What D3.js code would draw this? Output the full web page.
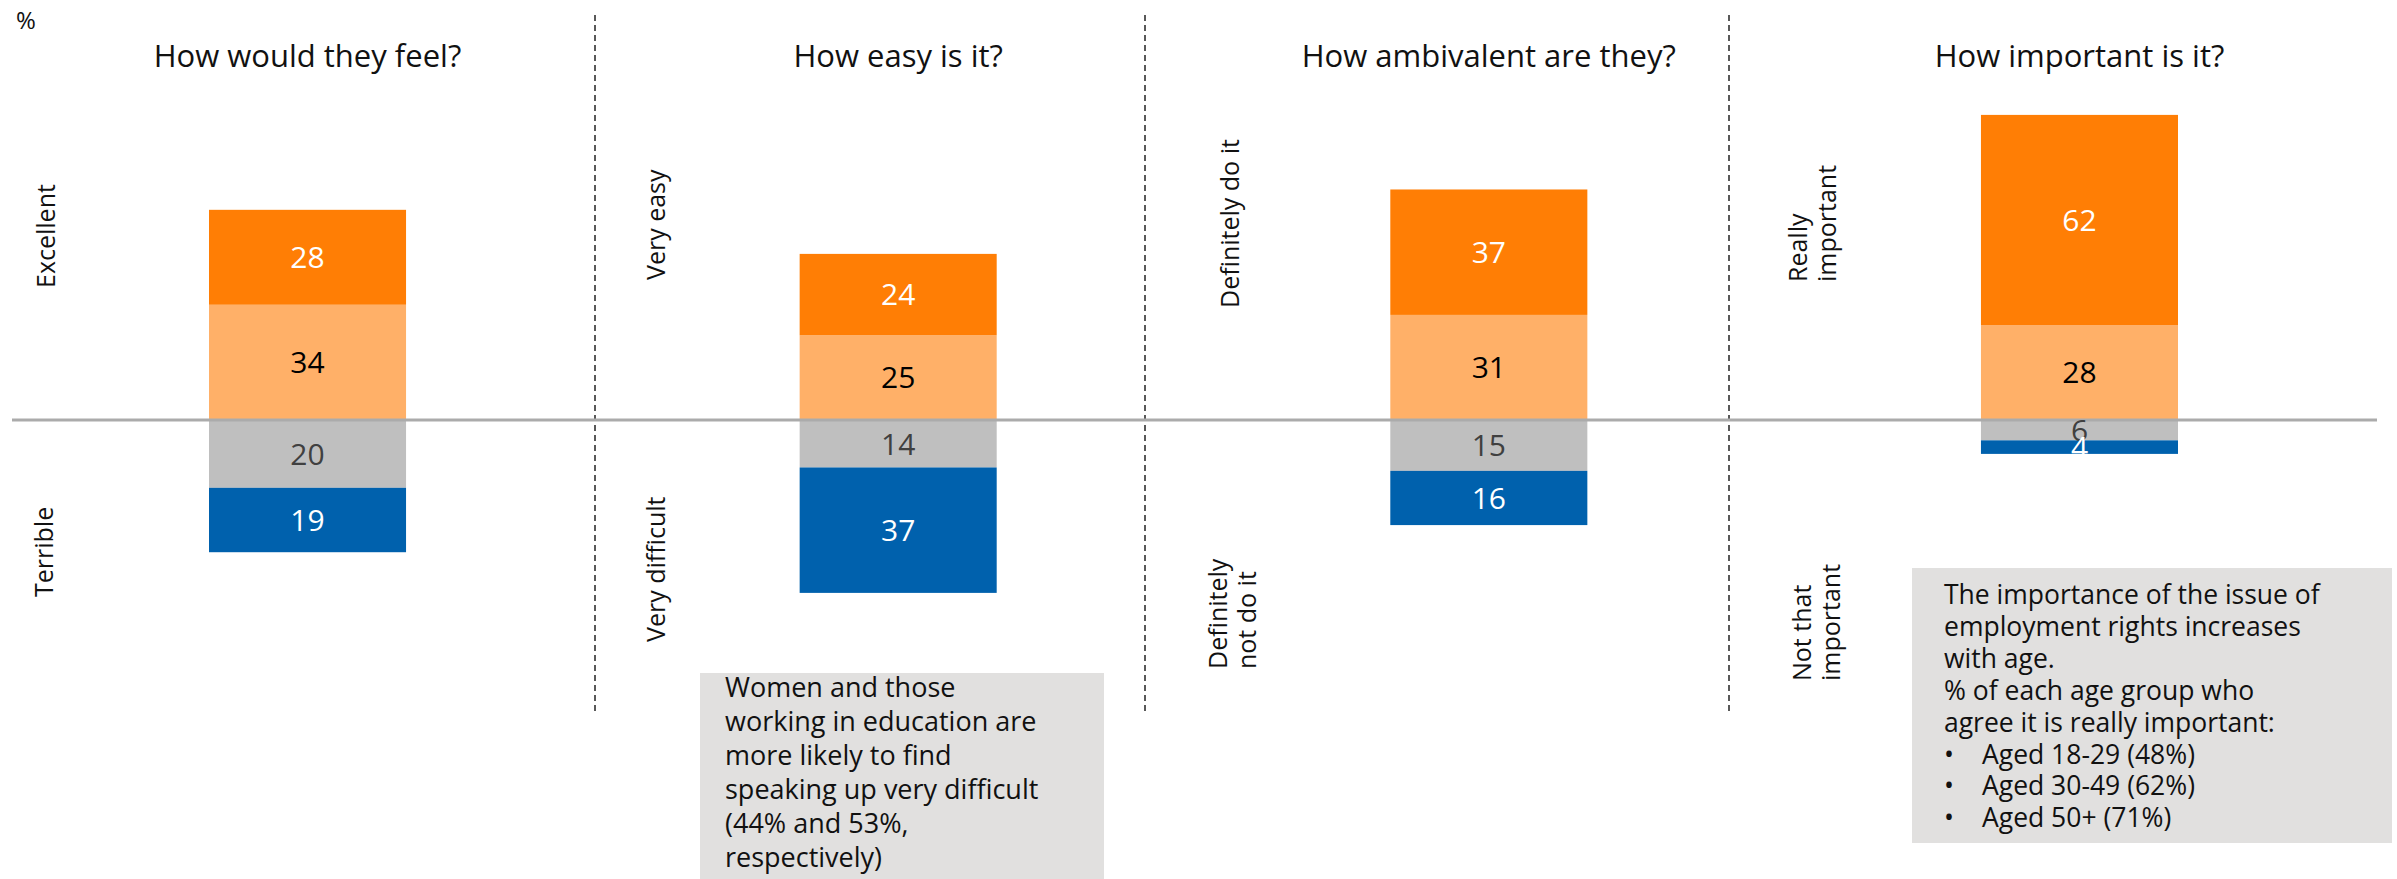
<!DOCTYPE html>
<html>
<head>
<meta charset="utf-8">
<script src="https://cdn.jsdelivr.net/npm/d3@7"></script>
<style>
  html, body { margin: 0; padding: 0; background: #fff; }
  svg { display: block; font-family: "Open Sans", sans-serif; }
</style>
</head>
<body>
<svg id="chart"></svg>
<script>
// questions (one panel each)
const questions = ["How would they feel?", "How easy is it?", "How ambivalent are they?", "How important is it?"];

// % values, top = positive side, bottom = negative side
const topStrong    = [28, 24, 37, 62];
const topWeak      = [34, 25, 31, 28];
const bottomWeak   = [20, 14, 15, 6];
const bottomStrong = [19, 37, 16, 4];

const topLabels    = [["Excellent"], ["Very easy"], ["Definitely do it"], ["Really", "important"]];
const bottomLabels = [["Terrible"], ["Very difficult"], ["Definitely", "not do it"], ["Not that", "important"]];

const note1 = ["Women and those", "working in education are", "more likely to find",
               "speaking up very difficult", "(44% and 53%,", "respectively)"];
const note2 = ["The importance of the issue of", "employment rights increases", "with age.",
               "% of each age group who", "agree it is really important:"];
const note2Bullets = ["Aged 18-29 (48%)", "Aged 30-49 (62%)", "Aged 50+ (71%)"];

const W = 2397, H = 879;
const svg = d3.select("#chart").attr("width", W).attr("height", H);

const keys = ["topWeak", "topStrong", "bottomWeak", "bottomStrong"];
const colors = {topStrong: "#FF7E05", topWeak: "#FFB068", bottomWeak: "#BFBFBF", bottomStrong: "#0061AD"};
const labelColors = {topStrong: "#fff", topWeak: "#000", bottomWeak: "#404040", bottomStrong: "#fff"};

const rows = questions.map((q, i) => ({
  q,
  topStrong: topStrong[i],
  topWeak: topWeak[i],
  bottomWeak: -bottomWeak[i],
  bottomStrong: -bottomStrong[i]
}));

const series = d3.stack().keys(keys).offset(d3.stackOffsetDiverging)(rows);

const x = d3.scaleBand().domain(questions).range([209, 2178]).paddingInner(0.6664).paddingOuter(0);
const y = d3.scaleLinear().domain([-100, 100]).range([420 + 339, 420 - 339]);

// dashed panel dividers
const dividerX = [595, 1145, 1729];
svg.append("g").selectAll("line").data(dividerX).join("line")
  .attr("x1", d => d).attr("x2", d => d)
  .attr("y1", 15).attr("y2", 711)
  .attr("stroke", "#595959").attr("stroke-width", 2)
  .attr("stroke-dasharray", "6,4");

// bars
const g = svg.append("g");
g.selectAll("g.series").data(series).join("g")
  .attr("class", "series")
  .attr("fill", s => colors[s.key])
  .selectAll("rect").data(s => s).join("rect")
  .attr("x", d => x(d.data.q))
  .attr("width", x.bandwidth())
  .attr("y", d => y(Math.max(d[0], d[1])))
  .attr("height", d => Math.abs(y(d[0]) - y(d[1])));

// zero line
svg.append("line")
  .attr("x1", 12).attr("x2", 2377)
  .attr("y1", y(0)).attr("y2", y(0))
  .attr("stroke", "#ABABAB").attr("stroke-width", 3);

// value labels
series.forEach(s => {
  svg.append("g").selectAll("text").data(s).join("text")
    .attr("x", d => x(d.data.q) + x.bandwidth() / 2)
    .attr("y", d => y((d[0] + d[1]) / 2))
    .attr("dy", "0.36em")
    .attr("text-anchor", "middle")
    .attr("font-size", 30)
    .attr("fill", labelColors[s.key])
    .text(d => Math.abs(d[1] - d[0]));
});

// titles
svg.append("g").selectAll("text").data(questions).join("text")
  .attr("x", d => x(d) + x.bandwidth() / 2)
  .attr("y", 67)
  .attr("text-anchor", "middle")
  .attr("font-size", 31)
  .attr("fill", "#111")
  .text(d => d);

svg.append("text").attr("x", 16).attr("y", 29)
  .attr("font-size", 24).attr("fill", "#111").text("%");

// rotated side labels
const sideTop    = [{x: 55, y: 288}, {x: 665, y: 280}, {x: 1239, y: 308}, {x: 1807, y: 282}];
const sideBottom = [{x: 53, y: 597}, {x: 665, y: 642}, {x: 1227, y: 669}, {x: 1811, y: 681}];

function sideLabel(lines, pos) {
  const t = svg.append("text")
    .attr("transform", `translate(${pos.x},${pos.y}) rotate(-90)`)
    .attr("font-size", 25)
    .attr("fill", "#111");
  lines.forEach((l, i) => {
    t.append("tspan").attr("x", 0).attr("dy", i ? 29 : 0).text(l);
  });
}
topLabels.forEach((l, i) => sideLabel(l, sideTop[i]));
bottomLabels.forEach((l, i) => sideLabel(l, sideBottom[i]));

// note boxes
svg.append("rect").attr("x", 700).attr("y", 673).attr("width", 404).attr("height", 220)
  .attr("fill", "#E1E0DF");
svg.append("g").selectAll("text").data(note1).join("text")
  .attr("x", 725)
  .attr("y", (d, i) => 697 + i * 34)
  .attr("font-size", 27)
  .attr("fill", "#111")
  .text(d => d);

svg.append("rect").attr("x", 1912).attr("y", 568).attr("width", 480).attr("height", 275)
  .attr("fill", "#E1E0DF");
svg.append("g").selectAll("text").data(note2).join("text")
  .attr("x", 1944)
  .attr("y", (d, i) => 604 + i * 31.9)
  .attr("font-size", 26.5)
  .attr("fill", "#111")
  .text(d => d);
const bl = svg.append("g").selectAll("g").data(note2Bullets).join("g")
  .attr("transform", (d, i) => `translate(0,${604 + (note2.length + i) * 31.9})`);
bl.append("text").attr("x", 1944).attr("font-size", 26.5).attr("fill", "#111").text("\u2022");
bl.append("text").attr("x", 1982).attr("font-size", 26.5).attr("fill", "#111").text(d => d);
</script>
</body>
</html>
